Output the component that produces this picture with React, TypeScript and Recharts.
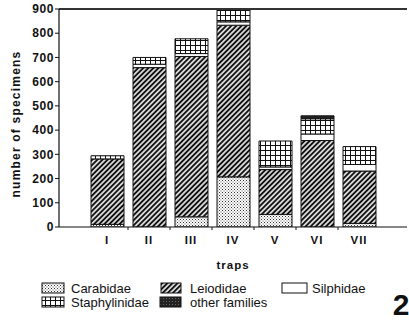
import React from 'react';
import { BarChart, Bar, XAxis, YAxis, ReferenceLine } from 'recharts';

const traps = ['I', 'II', 'III', 'IV', 'V', 'VI', 'VII'];
const carabidae = [11, 0, 42, 207, 52, 0, 15];
const leiodidae = [270, 658, 662, 626, 185, 357, 216];
const silphidae = [0, 14, 12, 14, 11, 27, 27];
const staphylinidae = [13, 28, 61, 51, 107, 63, 74];
const otherFamilies = [0, 0, 0, 0, 0, 12, 0];
const yTicks = [0, 100, 200, 300, 400, 500, 600, 700, 800, 900];

const data = traps.map((t, i) => ({
  trap: t,
  carabidae: carabidae[i],
  leiodidae: leiodidae[i],
  silphidae: silphidae[i],
  staphylinidae: staphylinidae[i],
  other: otherFamilies[i],
}));

const FONT = '"Liberation Sans", Arial, Helvetica, sans-serif';
const INK = '#111';

const XTick = (props: any) => {
  const { x, payload, index } = props;
  const axisY = 227;
  return (
    <g>
      <text x={x} y={axisY + 17} textAnchor="middle" fontFamily={FONT} fontWeight="bold" fontSize={11.5} fill={INK} letterSpacing={1}>
        {payload.value}
      </text>
      {index < traps.length - 1 && (
        <line x1={x + 21} x2={x + 21} y1={axisY} y2={axisY + 3} stroke={INK} strokeWidth={1} />
      )}
    </g>
  );
};

const Swatch = ({ x, y, w, fill }: { x: number; y: number; w: number; fill: string }) => (
  <rect x={x} y={y} width={w} height={10} fill={fill} stroke={INK} strokeWidth={1} />
);

const legendRows = [
  { label: 'Carabidae', fill: 'url(#patCar)', sx: 42, w: 22, tx: 71, y: 283 },
  { label: 'Leiodidae', fill: 'url(#patLei)', sx: 161, w: 20, tx: 190, y: 283 },
  { label: 'Silphidae', fill: '#fff', sx: 282, w: 25, tx: 312, y: 283 },
  { label: 'Staphylinidae', fill: 'url(#patSta)', sx: 42, w: 22, tx: 71, y: 297 },
  { label: 'other families', fill: 'url(#patOth)', sx: 160, w: 21, tx: 190, y: 297 },
];

export default function App() {
  return (
    <div style={{ position: 'absolute', left: 0, top: 0, width: 409, height: 325, background: '#fff' }}>
      <svg width={409} height={325} style={{ position: 'absolute', left: 0, top: 0 }}>
        <defs>
          <pattern id="patCar" width="3" height="3" patternUnits="userSpaceOnUse">
            <rect width="3" height="3" fill="#fff" />
            <rect x="0" y="0" width="1" height="1" fill="#333" />
            <rect x="1.5" y="1.5" width="1" height="1" fill="#555" />
          </pattern>
          <pattern id="patLei" width="3.6" height="3.6" patternUnits="userSpaceOnUse" patternTransform="rotate(45)">
            <rect width="3.6" height="3.6" fill="#fff" />
            <line x1="1.8" y1="0" x2="1.8" y2="3.6" stroke="#111" strokeWidth="2.1" />
          </pattern>
          <pattern id="patSta" width="5" height="5" patternUnits="userSpaceOnUse">
            <rect width="5" height="5" fill="#fff" />
            <line x1="0" y1="0.5" x2="5" y2="0.5" stroke="#111" strokeWidth="1" />
            <line x1="0.5" y1="0" x2="0.5" y2="5" stroke="#111" strokeWidth="1" />
          </pattern>
          <pattern id="patOth" width="3" height="3" patternUnits="userSpaceOnUse">
            <rect width="3" height="3" fill="#222" />
            <rect x="1" y="1" width="1" height="1" fill="#666" />
          </pattern>
        </defs>
        {legendRows.map((r) => (
          <g key={r.label}>
            <Swatch x={r.sx} y={r.y} w={r.w} fill={r.fill} />
            <text x={r.tx} y={r.y + 9.5} fontFamily={FONT} fontSize={13} fill={INK}>
              {r.label}
            </text>
          </g>
        ))}
        <text x={233} y={269} textAnchor="middle" fontFamily={FONT} fontWeight="bold" fontSize={11.5} letterSpacing={1} fill={INK}>
          traps
        </text>
        <text x={401} y={315} textAnchor="middle" fontFamily={FONT} fontWeight="bold" fontSize={30} fill={INK}>
          2
        </text>
        <text
          x={0}
          y={0}
          transform="translate(20,124) rotate(-90)"
          textAnchor="middle"
          fontFamily={FONT}
          fontWeight="bold"
          fontSize={12}
          letterSpacing={1.2}
          fill={INK}
        >
          number of specimens
        </text>
      </svg>
      <div style={{ position: 'absolute', left: 0, top: 0 }}>
        <BarChart
          width={409}
          height={325}
          data={data}
          margin={{ top: 9, right: 2, bottom: 78, left: 0 }}
          barSize={33}
        >
          <XAxis
            dataKey="trap"
            height={20}
            padding={{ left: 27, right: 27 }}
            axisLine={{ stroke: INK, strokeWidth: 1.2 }}
            tickLine={false}
            tick={<XTick />}
            interval={0}
          />
          <YAxis
            width={59}
            domain={[0, 900]}
            ticks={yTicks}
            interval={0}
            allowDataOverflow
            axisLine={{ stroke: INK, strokeWidth: 1.2 }}
            tickLine={{ stroke: INK }}
            tickSize={4}
            tickMargin={1}
            tick={{ fill: INK, fontFamily: FONT, fontWeight: 'bold', fontSize: 12, letterSpacing: 0.6 } as any}
          />
          <ReferenceLine y={900} stroke="#333" strokeWidth={2} ifOverflow="extendDomain" />
          <Bar dataKey="carabidae" stackId="a" fill="url(#patCar)" stroke={INK} strokeWidth={1} isAnimationActive={false} />
          <Bar dataKey="leiodidae" stackId="a" fill="url(#patLei)" stroke={INK} strokeWidth={1} isAnimationActive={false} />
          <Bar dataKey="silphidae" stackId="a" fill="#fff" stroke={INK} strokeWidth={1} isAnimationActive={false} />
          <Bar dataKey="staphylinidae" stackId="a" fill="url(#patSta)" stroke={INK} strokeWidth={1} isAnimationActive={false} />
          <Bar dataKey="other" stackId="a" fill="url(#patOth)" stroke={INK} strokeWidth={1} isAnimationActive={false} />
        </BarChart>
      </div>
    </div>
  );
}
